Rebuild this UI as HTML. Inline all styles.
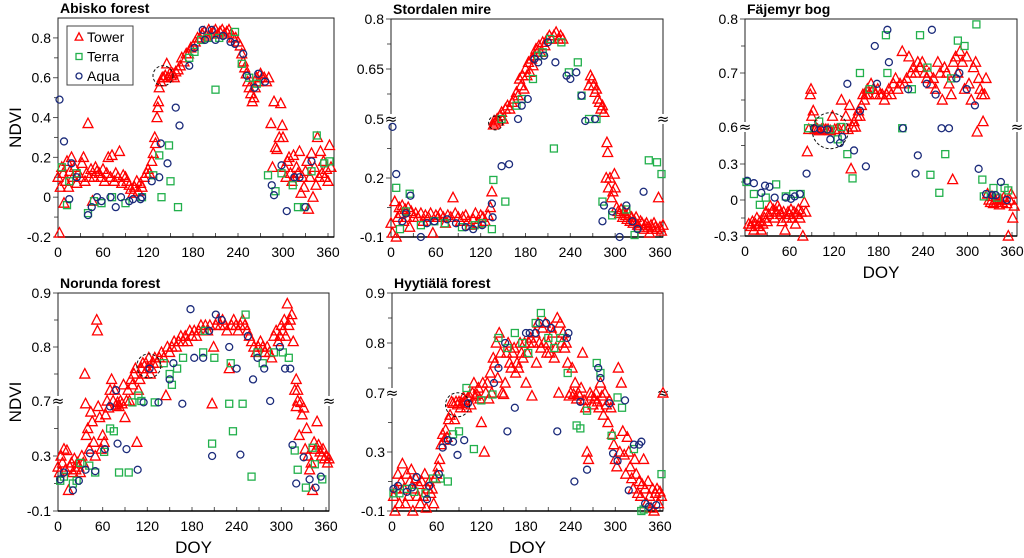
<!DOCTYPE html>
<html><head><meta charset="utf-8"><style>
html,body{margin:0;padding:0;background:#fff;}
svg{display:block;font-family:"Liberation Sans",sans-serif;}
</style></head><body>
<svg id="fig" width="1024" height="558" viewBox="0 0 1024 558"></svg>
<script>
// ---------- data: [doy, ndvi] pairs ----------
const abiskoTower=[0,0.1,2,-0.18,3,0.05,5,0.15,7,0.12,8,-0.03,10,0.08,12,0.18,14,0.05,16,0.13,18,0.2,20,0.1,22,0.15,25,0.07,27,0.12,30,0.1,32,0.17,34,0.2,36,0.08,38,0.12,40,0.37,42,0.1,44,0.14,46,-0.02,48,0.1,50,0.15,52,0.13,55,0.12,57,0.1,60,0.14,62,0.08,65,0.12,67,0.2,70,0.1,72,0.21,75,0.08,77,0.12,80,0.1,82,0.23,85,0.07,87,0.11,90,0.1,92,0.08,95,0.06,97,0.04,100,0.02,102,0.05,105,0.08,107,0.03,110,0.07,112,0.05,115,0.1,118,0.12,120,0.14,122,0.12,125,0.18,127,0.22,129,0.3,130,0.27,132,0.4,133,0.45,134,0.48,135,0.55,137,0.58,139,0.6,141,0.6,143,0.61,145,0.67,147,0.6,149,0.62,151,0.61,153,0.62,155,0.6,157,0.63,160,0.64,163,0.66,165,0.7,168,0.68,171,0.72,174,0.72,177,0.75,180,0.76,183,0.78,186,0.8,189,0.8,192,0.82,195,0.83,198,0.81,201,0.84,204,0.82,207,0.83,210,0.84,213,0.82,216,0.83,219,0.84,222,0.82,225,0.83,228,0.84,231,0.82,234,0.8,237,0.8,240,0.78,243,0.76,245,0.72,247,0.68,249,0.65,251,0.62,253,0.58,255,0.55,257,0.52,259,0.48,261,0.5,263,0.55,265,0.6,267,0.58,270,0.62,272,0.6,275,0.6,278,0.58,281,0.6,284,0.37,286,0.15,288,0.48,290,0.25,292,0.24,295,0.3,297,0.47,299,0.36,300,0.3,302,0.15,304,0.1,306,0.18,308,0.2,310,0.12,312,0.08,314,0.21,316,0.1,318,0.15,320,0.12,322,0.23,324,0.02,326,0.1,328,0.05,330,0.13,332,0.18,334,-0.06,336,0.1,338,0.22,340,0.0,342,0.15,344,0.06,346,0.3,348,0.1,350,0.23,352,0.12,354,0.18,356,0.1,358,0.14,360,0.08,362,0.26,364,0.15];
const abiskoTerra=[5,0.15,12,-0.04,15,0.08,25,0.12,40,-0.08,48,-0.02,58,-0.03,72,0.0,90,-0.03,112,0.0,127,0.11,135,0.21,138,0.0,148,0.26,150,0.08,160,-0.05,175,0.7,182,0.73,191,0.79,200,0.8,210,0.54,215,0.8,236,0.83,245,0.67,255,0.6,265,0.57,280,0.11,290,0.03,298,0.12,313,0.06,320,-0.05,328,-0.05,338,0.13,345,0.31,355,0.17,362,0.18];
const abiskoAqua=[2,0.49,8,0.28,15,-0.01,18,0.17,25,0.1,40,-0.09,45,-0.05,52,0.0,58,-0.02,70,0.0,77,-0.05,84,0.0,95,-0.02,100,-0.01,110,-0.01,112,0.0,125,0.08,135,0.1,137,0.27,146,0.17,157,0.45,162,0.36,175,0.66,182,0.75,193,0.84,196,0.79,205,0.84,210,0.79,220,0.81,230,0.78,236,0.77,247,0.72,252,0.61,262,0.55,267,0.62,276,0.58,285,0.06,288,0.01,298,0.16,305,-0.07,315,0.1,322,0.1,330,-0.05,338,0.18];
const stordTower=[0,-0.03,2,-0.08,5,0.08,7,-0.1,9,0.0,11,0.05,13,0.02,15,0.06,17,-0.02,19,0.04,21,0.0,23,0.05,25,-0.05,27,0.03,30,0.0,33,0.02,36,0.0,40,0.02,43,-0.02,46,0.01,50,0.0,53,0.02,56,-0.08,60,0.01,63,0.0,66,0.02,70,0.0,73,-0.03,76,0.01,80,0.0,83,0.1,86,0.02,90,0.0,93,-0.02,96,0.0,100,0.01,103,-0.02,106,-0.04,110,-0.01,113,0.02,116,-0.03,120,0.01,123,0.0,126,-0.02,130,0.01,133,0.05,135,0.13,137,0.47,138,0.49,140,0.48,142,0.5,144,0.49,146,0.51,148,0.52,150,0.5,153,0.53,156,0.54,159,0.53,162,0.55,165,0.56,168,0.58,170,0.57,172,0.62,174,0.6,176,0.63,178,0.59,180,0.65,182,0.63,184,0.67,186,0.64,188,0.68,190,0.66,192,0.69,194,0.71,196,0.7,198,0.72,200,0.7,203,0.73,206,0.72,209,0.74,212,0.75,215,0.74,218,0.75,221,0.76,224,0.74,227,0.75,230,0.74,265,0.6,267,0.63,269,0.62,271,0.6,273,0.58,275,0.59,277,0.56,279,0.55,281,0.53,283,0.54,285,0.52,288,0.2,289,0.38,290,0.33,291,0.15,293,0.2,295,0.1,297,0.13,299,0.22,300,0.15,302,0.05,304,0.03,306,0.02,308,0.04,310,0.0,312,0.03,314,0.01,316,-0.01,318,0.02,320,-0.02,322,0.0,324,-0.03,326,-0.02,328,0.0,330,-0.04,332,-0.05,334,-0.02,336,-0.03,338,-0.06,340,-0.04,342,-0.03,344,-0.05,346,-0.08,348,-0.04,350,-0.06,352,-0.03,354,-0.05,356,-0.06,358,0.1,360,-0.05,362,-0.07,364,-0.04];
const stordTerra=[7,0.15,12,-0.06,20,0.03,25,0.12,40,-0.04,58,-0.02,72,-0.03,95,-0.05,112,-0.04,122,-0.03,135,-0.06,137,0.19,148,0.5,153,0.08,168,0.54,175,0.56,190,0.62,197,0.69,203,0.7,213,0.74,218,0.35,228,0.73,238,0.64,250,0.67,255,0.57,265,0.5,275,0.5,283,0.08,296,0.01,315,0.04,326,-0.09,345,0.29,356,0.28,362,0.22];
const stordAqua=[2,0.46,7,0.22,15,-0.02,20,0.02,26,0.11,40,-0.1,48,-0.03,58,-0.02,75,-0.01,87,-0.03,100,-0.05,110,-0.06,122,-0.04,135,0.07,136,0.0,148,0.26,158,0.27,170,0.5,175,0.54,183,0.56,192,0.68,197,0.67,205,0.69,210,0.73,220,0.67,235,0.63,240,0.62,248,0.64,255,0.57,260,0.49,273,0.5,283,-0.02,285,0.06,296,0.03,306,-0.1,315,0.06,323,-0.02,330,-0.06,338,0.13];
const fajeTower=[5,-0.2,8,-0.22,10,-0.18,12,-0.25,14,-0.2,16,-0.15,18,-0.22,20,-0.18,22,-0.25,24,-0.2,26,-0.15,28,-0.1,30,-0.18,32,-0.12,34,-0.05,36,-0.1,38,-0.08,40,-0.15,42,-0.1,44,-0.05,46,-0.08,48,-0.12,50,-0.18,52,-0.1,54,-0.25,56,-0.15,58,-0.1,60,-0.12,62,-0.08,64,-0.15,66,-0.1,68,-0.2,70,-0.12,72,-0.08,74,-0.15,76,-0.1,78,-0.3,80,-0.02,82,-0.1,84,0.4,86,0.58,88,0.66,89,0.67,90,0.62,92,0.63,94,0.58,96,0.59,98,0.58,100,0.57,103,0.58,106,0.58,109,0.58,112,0.58,115,0.57,118,0.62,121,0.58,124,0.58,127,0.58,130,0.65,133,0.58,136,0.62,139,0.58,141,0.64,143,0.26,145,0.6,147,0.61,149,0.6,151,0.62,153,0.63,155,0.62,157,0.64,159,0.66,161,0.65,163,0.66,165,0.67,167,0.66,170,0.68,173,0.67,176,0.66,179,0.67,182,0.66,185,0.66,188,0.65,191,0.66,194,0.67,197,0.66,200,0.68,203,0.69,206,0.67,209,0.68,212,0.74,215,0.68,218,0.69,221,0.73,224,0.7,227,0.71,230,0.7,233,0.72,236,0.71,239,0.72,242,0.7,245,0.69,248,0.7,251,0.68,254,0.69,257,0.67,260,0.72,263,0.7,266,0.65,269,0.71,272,0.7,275,0.68,278,0.66,281,0.72,284,0.73,287,0.7,290,0.74,293,0.72,296,0.67,299,0.73,302,0.68,305,0.65,308,0.71,311,0.72,313,0.56,315,0.69,317,0.67,319,0.66,321,0.61,323,0.66,325,0.69,327,0.05,329,0.0,331,-0.02,333,0.03,335,-0.03,337,0.0,339,-0.02,341,0.01,343,-0.04,345,0.0,347,-0.02,349,0.02,351,0.0,353,-0.03,355,-0.3,357,0.0,359,0.05,361,-0.15,363,-0.05,280,0.17];
const fajeTerra=[2,0.15,12,0.05,20,-0.04,28,0.02,42,0.13,55,0.03,65,0.05,75,0.05,85,0.59,100,0.61,115,0.58,125,0.5,130,0.6,138,0.38,145,0.18,155,0.7,168,0.67,190,0.77,192,0.7,212,0.59,225,0.67,236,0.77,246,0.71,250,0.21,262,0.06,270,0.38,278,0.69,287,0.76,296,0.75,312,0.79,320,0.17,322,0.03,335,0.1,340,0.02,350,0.1,355,0.08];
const fajeAqua=[3,0.16,12,0.14,22,0.06,27,0.12,33,0.11,40,0.02,55,0.02,62,0.01,67,0.03,74,0.05,83,0.22,93,0.59,102,0.58,111,0.58,115,0.5,128,0.47,131,0.52,138,0.68,147,0.41,155,0.63,163,0.28,175,0.75,178,0.68,192,0.78,194,0.72,213,0.59,220,0.67,230,0.22,233,0.37,245,0.68,252,0.78,257,0.66,265,0.59,275,0.59,285,0.69,289,0.7,299,0.67,310,0.64,315,0.26,325,0.05,333,0.04,338,0.04,345,0.15,353,0.0];
const norTower=[0,0.22,2,0.18,4,0.3,6,0.25,8,0.35,10,0.2,12,0.34,14,0.05,16,0.22,18,0.25,20,0.18,22,0.28,24,0.2,26,0.25,28,0.22,30,0.18,32,0.3,34,0.25,36,0.75,37,0.68,38,0.45,40,0.5,42,0.35,44,0.62,46,0.55,48,0.4,50,0.3,52,0.85,53,0.83,54,0.66,56,0.58,58,0.35,60,0.45,62,0.4,64,0.6,66,0.7,68,0.65,70,0.72,72,0.74,74,0.7,76,0.72,78,0.67,80,0.69,82,0.66,84,0.7,86,0.68,88,0.73,90,0.58,92,0.7,94,0.72,96,0.7,98,0.74,100,0.73,102,0.75,104,0.76,106,0.4,108,0.72,110,0.74,112,0.76,114,0.77,116,0.75,118,0.77,120,0.76,122,0.78,124,0.75,126,0.76,128,0.77,130,0.78,133,0.77,136,0.78,139,0.79,142,0.78,145,0.71,147,0.8,150,0.79,153,0.8,156,0.81,159,0.8,162,0.81,165,0.82,168,0.81,171,0.82,174,0.81,177,0.83,180,0.82,183,0.83,186,0.82,189,0.83,192,0.84,195,0.83,198,0.84,201,0.83,204,0.84,207,0.68,209,0.8,212,0.84,215,0.85,218,0.84,221,0.85,224,0.84,227,0.83,230,0.76,233,0.84,236,0.85,239,0.84,242,0.83,245,0.84,248,0.85,251,0.84,254,0.83,257,0.82,260,0.81,263,0.8,266,0.79,269,0.8,272,0.81,275,0.8,278,0.79,281,0.8,284,0.79,287,0.78,290,0.82,293,0.83,296,0.81,298,0.82,300,0.84,302,0.83,304,0.85,306,0.82,308,0.88,310,0.84,312,0.85,314,0.86,316,0.81,318,0.72,320,0.66,322,0.7,324,0.45,326,0.69,328,0.6,330,0.65,332,0.35,334,0.5,336,0.3,338,0.2,340,0.25,342,0.05,344,0.4,346,0.35,348,0.55,350,0.38,352,0.33,354,0.3,356,0.35,358,0.28,360,0.3,362,0.25,364,0.28,320,0.74,322,0.72];
const norTerra=[3,0.12,8,0.15,20,0.1,25,0.12,30,0.25,42,0.23,50,0.18,62,0.33,70,0.5,75,0.48,82,0.18,95,0.18,100,0.69,108,0.71,112,0.7,130,0.69,142,0.77,150,0.75,153,0.73,160,0.76,168,0.78,195,0.79,197,0.83,207,0.39,210,0.78,230,0.68,232,0.77,235,0.48,248,0.68,252,0.86,260,0.15,268,0.79,275,0.77,290,0.79,302,0.79,310,0.78,318,0.34,322,0.2,333,0.07,342,0.36,345,0.24,355,0.13];
const norAqua=[3,0.13,8,0.18,20,0.05,28,0.12,37,0.2,43,0.32,50,0.19,63,0.35,70,0.66,78,0.72,80,0.39,92,0.35,107,0.2,115,0.69,123,0.76,135,0.69,150,0.74,155,0.77,167,0.68,178,0.87,183,0.78,195,0.78,203,0.83,207,0.3,212,0.86,220,0.85,230,0.8,240,0.76,245,0.31,255,0.82,262,0.74,268,0.78,277,0.76,285,0.7,298,0.8,305,0.76,312,0.76,315,0.38,320,0.1,330,0.29,338,0.13,346,0.07,353,0.15];
const hyyTower=[2,0.0,4,-0.1,6,0.05,8,0.15,10,-0.05,12,0.1,14,0.22,16,0.05,18,-0.05,20,0.15,22,0.0,24,0.1,26,0.18,28,-0.1,30,0.05,32,0.12,34,0.0,36,0.08,38,-0.05,40,0.1,42,0.0,44,0.15,46,-0.08,48,0.05,50,0.1,52,0.02,54,0.05,56,-0.05,58,0.12,60,0.15,62,0.2,64,0.25,66,0.35,68,0.42,70,0.38,72,0.45,74,0.4,76,0.52,78,0.55,80,0.64,82,0.63,84,0.52,86,0.64,88,0.62,90,0.64,92,0.6,94,0.63,96,0.67,98,0.65,100,0.6,102,0.67,104,0.68,106,0.62,108,0.7,110,0.72,112,0.68,114,0.69,116,0.71,118,0.66,120,0.5,122,0.72,124,0.3,126,0.7,128,0.72,130,0.66,132,0.74,134,0.7,136,0.77,138,0.76,140,0.8,142,0.73,144,0.82,146,0.78,148,0.7,150,0.69,152,0.72,154,0.78,156,0.8,158,0.76,160,0.75,162,0.78,164,0.79,166,0.74,168,0.76,170,0.75,172,0.8,174,0.78,176,0.77,178,0.8,180,0.72,182,0.78,184,0.8,186,0.81,188,0.68,190,0.8,192,0.82,194,0.76,196,0.84,198,0.8,200,0.79,202,0.83,204,0.8,206,0.84,208,0.78,210,0.8,212,0.78,214,0.83,216,0.82,218,0.77,220,0.79,222,0.85,224,0.7,226,0.84,228,0.8,230,0.82,232,0.79,234,0.8,236,0.76,238,0.68,240,0.7,242,0.75,244,0.69,246,0.72,248,0.66,250,0.7,252,0.68,254,0.71,256,0.78,258,0.65,260,0.6,262,0.3,264,0.25,266,0.7,268,0.68,270,0.62,272,0.66,274,0.7,276,0.64,278,0.6,280,0.72,282,0.68,284,0.55,286,0.7,288,0.62,290,0.5,292,0.65,294,0.6,296,0.42,298,0.35,300,0.25,302,0.2,304,0.75,306,0.3,308,0.72,310,0.44,312,0.28,314,0.15,316,0.4,318,0.3,320,0.2,322,0.12,324,0.05,326,0.25,328,0.15,330,0.02,332,0.1,334,0.0,336,0.08,338,0.25,340,0.05,342,-0.05,344,0.1,346,0.0,348,-0.08,350,0.05,352,-0.1,354,0.02,356,0.05,358,-0.05,360,0.03,362,0.0,364,0.7];
const hyyTerra=[2,0.02,10,0.02,20,0.05,30,0.03,45,0.02,55,0.12,65,0.12,75,0.1,82,0.42,90,0.44,100,0.71,110,0.32,120,0.65,135,0.69,143,0.81,155,0.79,165,0.82,175,0.8,183,0.78,193,0.84,200,0.86,210,0.81,218,0.79,226,0.81,236,0.74,248,0.48,253,0.46,262,0.58,275,0.76,280,0.74,295,0.41,303,0.67,309,0.6,325,0.32,335,-0.1,338,-0.09,362,0.15];
const hyyAqua=[2,0.05,8,0.07,20,0.03,27,0.06,33,0.13,47,-0.02,50,0.07,63,0.15,68,0.33,75,0.38,82,0.37,88,0.28,97,0.38,102,0.63,137,0.72,143,0.75,152,0.8,155,0.44,165,0.6,180,0.82,185,0.82,193,0.82,198,0.84,207,0.84,214,0.83,222,0.44,235,0.81,237,0.82,245,0.1,253,0.64,262,0.18,277,0.75,280,0.73,292,0.63,297,0.29,303,0.24,313,0.65,318,0.04,325,0.35,332,0.35,335,0.37,340,-0.05,345,-0.07,355,-0.06];
const xTicks=[0,60,120,180,240,300,360];
const abiskoYTicks=[-0.2,0,0.2,0.4,0.6,0.8];
const stordYTicks=[-0.1,0.2,0.5,0.65,0.8];
const fajeYTicks=[-0.3,0,0.3,0.6,0.7,0.8];
const forestYTicks=[-0.1,0.3,0.7,0.8,0.9];

// ---------- layout ----------
const panels=[
 {key:'abisko',title:'Abisko forest',x0:58,x1:334,y0:18,y1:237,px0:58,px360:328,ymap:[[-0.2,237],[0.9,18]],ticks:abiskoYTicks,tower:abiskoTower,terra:abiskoTerra,aqua:abiskoAqua,ylab:true,doy:false,legend:true,brk:null,circ:[140,0.61,10]},
 {key:'stordalen',title:'Stordalen mire',x0:391,x1:663,y0:19,y1:237,px0:391,px360:660,ymap:[[-0.1,237],[0.2,178],[0.5,119],[0.65,69],[0.8,19]],ticks:stordYTicks,tower:stordTower,terra:stordTerra,aqua:stordAqua,ylab:false,doy:false,brk:0.5,circ:[140,0.48,7]},
 {key:'fajemyr',title:'Fäjemyr bog',x0:745,x1:1017,y0:19,y1:236,px0:745,px360:1012,ymap:[[-0.3,236],[0,200],[0.3,164],[0.6,127],[0.7,73],[0.8,19]],ticks:fajeYTicks,tower:fajeTower,terra:fajeTerra,aqua:fajeAqua,ylab:false,doy:true,brk:0.6,circ:[115,0.57,18]},
 {key:'norunda',title:'Norunda forest',x0:58,x1:329,y0:293,y1:511,px0:58,px360:326,ymap:[[-0.1,511],[0.3,456],[0.7,401],[0.8,347],[0.9,293]],ticks:forestYTicks,tower:norTower,terra:norTerra,aqua:norAqua,ylab:true,doy:true,brk:0.7,circ:[122,0.765,12]},
 {key:'hyytiala',title:'Hyytiälä forest',x0:392,x1:663,y0:293,y1:511,px0:392,px360:660,ymap:[[-0.1,511],[0.3,452],[0.7,393],[0.8,343],[0.9,293]],ticks:forestYTicks,tower:hyyTower,terra:hyyTerra,aqua:hyyAqua,ylab:false,doy:true,brk:0.7,circ:[88,0.62,12]}
];
const NS='http://www.w3.org/2000/svg';
const svg=document.getElementById('fig');
function mk(tag,attrs,parent){const e=document.createElementNS(NS,tag);for(const k in attrs)e.setAttribute(k,attrs[k]);(parent||svg).appendChild(e);return e;}
function yScale(p,v){const m=p.ymap;if(v<=m[0][0])return m[0][1]+(v-m[0][0])*(m[1][1]-m[0][1])/(m[1][0]-m[0][0]);
 for(let i=0;i<m.length-1;i++){if(v<=m[i+1][0]||i===m.length-2){return m[i][1]+(v-m[i][0])*(m[i+1][1]-m[i][1])/(m[i+1][0]-m[i][0]);}}}
function xScale(p,d){return p.px0+d*(p.px360-p.px0)/360;}
function tri(g,x,y,s){const e=mk('path',{d:`M${x},${y-s*0.6}L${x+s*0.55},${y+s*0.45}L${x-s*0.55},${y+s*0.45}Z`,fill:'none',stroke:'#ff0000','stroke-width':1.3},g);return e;}
function sq(g,x,y,s){return mk('rect',{x:x-s/2,y:y-s/2,width:s,height:s,fill:'none',stroke:'#22b04c','stroke-width':1.3},g);}
function circ(g,x,y,s){return mk('circle',{cx:x,cy:y,r:s/2,fill:'none',stroke:'#1a2a7a','stroke-width':1.3},g);}

panels.forEach(p=>{
 const g=mk('g',{});
 
 
 const t=mk('text',{x:p.x0+2,y:p.y0-5,'font-size':14,'font-weight':'bold',fill:'#000'},g);t.textContent=p.title;
 
 
 // y ticks and labels
 const ticksVals=p.ticks;
 ticksVals.forEach((v,i)=>{const y=yScale(p,v);
  mk('line',{x1:p.x0-5,x2:p.x0,y1:y,y2:y,stroke:'#555','stroke-width':1},g);
  const l=mk('text',{x:p.x0-7,y:y+5,'font-size':14,'text-anchor':'end',fill:'#000'},g);
  l.textContent=(p.brk!==null&&v===p.brk?'':'')+String(v);
  
  
  if(i<ticksVals.length-1){const ym=(y+yScale(p,ticksVals[i+1]))/2;mk('line',{x1:p.x0-4,x2:p.x0,y1:ym,y2:ym,stroke:'#555','stroke-width':1},g);}
 });
 // x ticks
 for(let d=0;d<=360;d+=30){const x=xScale(p,d);mk('line',{x1:x,x2:x,y1:p.y1,y2:p.y1-4,stroke:'#555','stroke-width':1},g);}
 xTicks.forEach(d=>{const l=mk('text',{x:xScale(p,d),y:p.y1+20,'font-size':14,'text-anchor':'middle',fill:'#000'},g);l.textContent=d;
  
  });
 // frame
 mk('rect',{x:p.x0,y:p.y0,width:p.x1-p.x0,height:p.y1-p.y0,fill:'none',stroke:'#222','stroke-width':1},g);
 mk('line',{x1:p.x0,x2:p.x1,y1:p.y1,y2:p.y1,stroke:'#000','stroke-width':1.6},g);
 // break marks
 if(p.brk!==null){const yb=yScale(p,p.brk);[p.x0,p.x1].forEach(xb=>{
  mk('rect',{x:xb-4,y:yb-5,width:8,height:10,fill:'#fff'},g);
  const b=mk('text',{x:xb,y:yb+5,'font-size':15,'text-anchor':'middle',fill:'#000','font-family':'DejaVu Sans'},g);b.textContent='≈';
  
  });}
 // series
 const gt=mk('g',{},g);
 for(let i=0;i<p.tower.length;i+=2){tri(gt,xScale(p,p.tower[i]),yScale(p,p.tower[i+1]),9);}
 const gs=mk('g',{},g);
 for(let i=0;i<p.terra.length;i+=2){sq(gs,xScale(p,p.terra[i]),yScale(p,p.terra[i+1]),7);}
 const ga=mk('g',{},g);
 for(let i=0;i<p.aqua.length;i+=2){circ(ga,xScale(p,p.aqua[i]),yScale(p,p.aqua[i+1]),7);}
 // dashed highlight circle
 const c=mk('circle',{cx:xScale(p,p.circ[0]),cy:yScale(p,p.circ[1]),r:p.circ[2],fill:'none',stroke:'#111','stroke-width':1,'stroke-dasharray':'3,2'},g);
 
 
 if(p.ylab){const yl=(p.y0+p.y1)/2;const n=mk('text',{x:21,y:yl,'font-size':17,'text-anchor':'middle',transform:`rotate(-90 21 ${yl})`,fill:'#000'},g);n.textContent='NDVI';
  
  }
 if(p.doy){const dd=mk('text',{x:(p.x0+p.x1)/2,y:p.y1+42,'font-size':17,'text-anchor':'middle',fill:'#000'},g);dd.textContent='DOY';
  
  }
 if(p.legend){const lg=mk('g',{},g);
  
  
  mk('rect',{x:67,y:26,width:66,height:59,fill:'#fff',stroke:'#444','stroke-width':1},lg);
  const items=[['Tower',tri],['Terra',sq],['Aqua',circ]];
  items.forEach((it,i)=>{const y=37+i*19.5;it[1](lg,79,y,i===0?7:6);
   const tx=mk('text',{x:87,y:y+5,'font-size':14,fill:'#000'},lg);tx.textContent=it[0];
   
   });}
});
</script>
</body></html>
